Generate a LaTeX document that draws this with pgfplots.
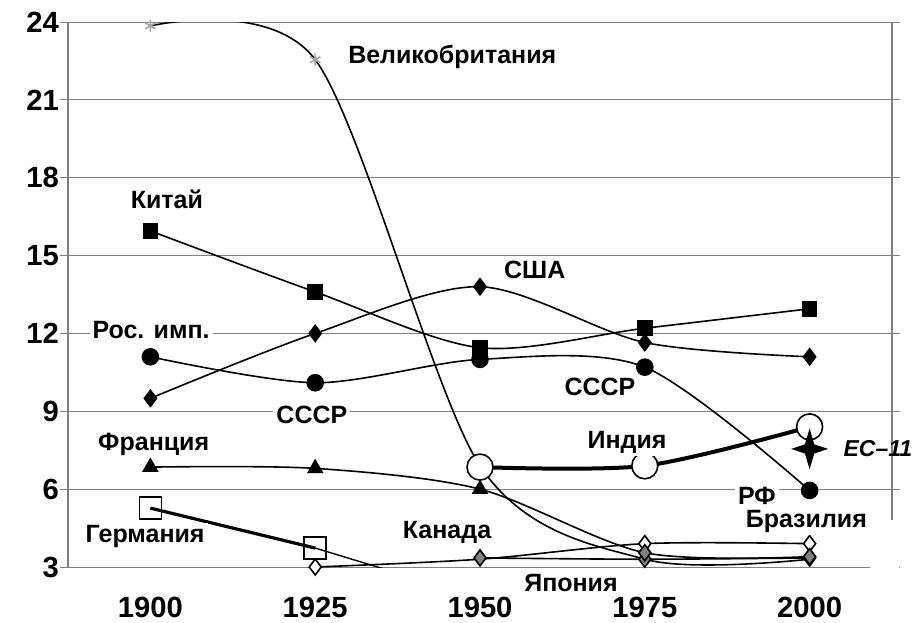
\documentclass[border=0pt]{standalone}
\usepackage{pgfplots}
\pgfplotsset{compat=1.18}
\usepackage{fontspec}
\setmainfont{Liberation Sans}

\pgfdeclareplotmark{fourstar}{%
  \pgfpathmoveto{\pgfpoint{0pt}{1.1\pgfplotmarksize}}%
  \pgfpathlineto{\pgfpoint{0.25\pgfplotmarksize}{0.25\pgfplotmarksize}}%
  \pgfpathlineto{\pgfpoint{\pgfplotmarksize}{0pt}}%
  \pgfpathlineto{\pgfpoint{0.25\pgfplotmarksize}{-0.25\pgfplotmarksize}}%
  \pgfpathlineto{\pgfpoint{0pt}{-1.1\pgfplotmarksize}}%
  \pgfpathlineto{\pgfpoint{-0.25\pgfplotmarksize}{-0.25\pgfplotmarksize}}%
  \pgfpathlineto{\pgfpoint{-\pgfplotmarksize}{0pt}}%
  \pgfpathlineto{\pgfpoint{-0.25\pgfplotmarksize}{0.25\pgfplotmarksize}}%
  \pgfpathclose
  \pgfusepathqfillstroke}

\tikzset{lab/.style={font=\bfseries\fontsize{12.5}{15}\selectfont, fill=white, inner sep=1.5pt, on layer=pre main}}

\begin{document}
\begin{tikzpicture}
\begin{axis}[
  set layers,
  clip mode=individual,
  anchor=south west, at={(0,0)},
  scale only axis,
  width=412pt, height=272.5pt,
  xmin=1887.5, xmax=2012.5,
  ymin=3, ymax=24,
  xtick={1900,1925,1950,1975,2000},
  ytick={3,6,...,24},
  /pgf/number format/1000 sep={},
  /pgf/number format/assume math mode=true,
  ticklabel style={font=\bfseries\fontsize{14.6}{17}\selectfont},
  xticklabel style={yshift=-7.5pt},
  yticklabel style={xshift=3pt},
  axis line style={draw=none},
  tick align=outside,
  major tick length=4pt,
  ytick style={gray, line width=0.5pt},
  xtick style={draw=none},
  ymajorgrids,
  grid style={gray, line width=0.5pt},
  every axis plot/.append style={smooth, black, line width=0.8pt},
]
% frame lines
\draw[gray, line width=0.6pt] (axis cs:1887.5,3) -- (axis cs:1887.5,24);
\draw[gray, line width=0.6pt] (axis cs:2012.5,24) -- (axis cs:2012.5,4.8);

% Великобритания
\addplot[mark=asterisk, mark indices={1,2}, mark size=3pt, mark options={gray!70, line width=0.8pt}]
  coordinates {(1900,23.85)(1925,22.55)(1950,6.9)(1975,3.3)(2000,3.3)};
% Китай
\addplot[mark=square*, mark size=3.5pt]
  coordinates {(1900,15.95)(1925,13.6)(1950,11.45)(1975,12.2)(2000,12.95)};
% США
\addplot[mark=diamond*, mark size=4pt]
  coordinates {(1900,9.5)(1925,12.0)(1950,13.8)(1975,11.65)(2000,11.1)};
% Рос. имп. / СССР / РФ
\addplot[mark=*, mark size=4pt]
  coordinates {(1900,11.1)(1925,10.1)(1950,11.0)(1975,10.7)(2000,5.95)};
% Франция
\addplot[mark=triangle*, mark indices={1,2,3}, mark size=4pt]
  coordinates {(1900,6.85)(1925,6.8)(1950,6.0)(1975,3.55)(2000,3.4)};
% Германия
\addplot[line width=1.6pt, mark=square, mark size=5.5pt, mark options={fill=white, line width=0.8pt}]
  coordinates {(1900,5.27)(1925,3.73)};
\addplot[sharp plot, line width=0.7pt]
  coordinates {(1925,3.73)(1950,1.8)};
% Бразилия
\addplot[mark=diamond*, mark indices={1,3,4}, mark size=4pt, mark options={fill=white}]
  coordinates {(1925,3.0)(1950,3.3)(1975,3.9)(2000,3.9)};
% Канада
\addplot[mark=diamond*, mark size=4pt, mark options={fill=gray}]
  coordinates {(1950,3.35)(1975,3.3)(2000,3.35)};
% Япония
\addplot[only marks, mark=diamond*, mark size=4pt, mark options={fill=gray}]
  coordinates {(1975,3.55)(2000,3.4)};
% Индия
\addplot[line width=2pt, mark=*, mark size=6.5pt, mark options={fill=white, line width=0.8pt}]
  coordinates {(1950,6.85)(1975,6.9)(2000,8.4)};
% ЕС-11
\addplot[only marks, mark=fourstar, mark size=8pt, mark options={fill=black}]
  coordinates {(2000,7.55)};

% labels
\node[lab, anchor=west] at (axis cs:1929.5,22.65) {Великобритания};
\node[lab] at (axis cs:1902.5,17.18) {Китай};
\node[lab] at (axis cs:1958.3,14.44) {США};
\node[lab] at (axis cs:1900.1,12.13) {Рос. имп.};
\node[lab] at (axis cs:1924.5,8.86) {СССР};
\node[lab] at (axis cs:1968.2,9.94) {СССР};
\node[lab] at (axis cs:1900.5,7.74) {Франция};
\node[lab] at (axis cs:1972.3,7.82) {Индия};
\node[lab, fill=none, anchor=west, inner sep=0pt, font=\bfseries\itshape\fontsize{11.5}{14}\selectfont] at (axis cs:2005.1,7.55) {ЕС–11};
\node[lab] at (axis cs:1992.0,5.74) {РФ};
\node[lab] at (axis cs:1999.5,4.77) {Бразилия};
\node[lab] at (axis cs:1899.2,4.16) {Германия};
\node[lab] at (axis cs:1945.0,4.35) {Канада};
\node[lab, fill=none] at (axis cs:1963.8,2.38) {Япония};

\fill[white, on layer=axis foreground] (axis cs:2009.2,2.6) rectangle (axis cs:2013.5,4.8);
\end{axis}
\pgfresetboundingbox
\path (-34pt,-27.5pt) rectangle (422.5pt,283.5pt);
\end{tikzpicture}
\end{document}
